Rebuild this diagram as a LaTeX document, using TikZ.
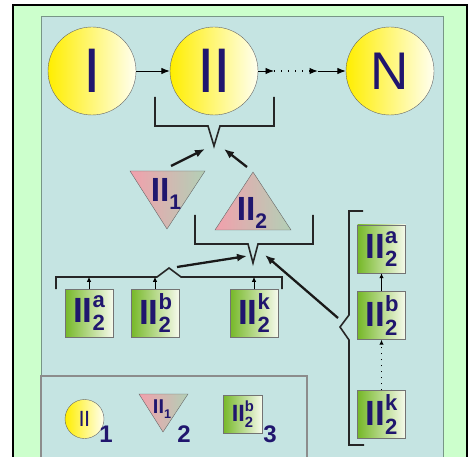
\documentclass[tikz,border=0pt]{standalone}
\usepackage{fontspec}
\setmainfont{Liberation Sans}
\usepackage{graphicx}
\usetikzlibrary{arrows.meta}

\definecolor{frameg}{RGB}{204,255,204}
\definecolor{panelb}{RGB}{197,228,226}
\definecolor{panele}{RGB}{120,150,135}
\definecolor{navy}{RGB}{32,22,110}
\definecolor{ylw}{RGB}{255,238,0}
\definecolor{ylwl}{RGB}{255,255,240}
\definecolor{pnk}{RGB}{242,160,172}
\definecolor{sage}{RGB}{178,208,182}
\definecolor{grn}{RGB}{118,184,40}
\definecolor{grnl}{RGB}{246,250,236}

\newcommand{\IIsub}[1]{II\raisebox{-.24em}{\scalebox{.63}{#1}}}
\newcommand{\IIsubsup}[2]{II\rlap{\raisebox{.43em}{\scalebox{.63}{#1}}}\raisebox{-.24em}{\scalebox{.63}{#2}}}

\begin{document}
\begin{tikzpicture}[x=1pt, y=-1pt,
        stagecirc/.style={circle, draw=black!60, left color=ylw, right color=ylwl, minimum size=88pt, inner sep=0pt, text=navy, font=\fontsize{63}{63}\selectfont},
        partbox/.style={rectangle, draw=black!55, left color=grn, right color=grnl, minimum size=48pt, inner sep=0pt, text=navy, font=\bfseries\fontsize{35}{35}\selectfont},
        wedgefill/.style={draw=black!60, left color=pnk, right color=sage},
        tagtext/.style={inner sep=0pt, text=navy, font=\bfseries\fontsize{33.5}{33.5}\selectfont},
        keytext/.style={inner sep=0pt, text=navy, font=\bfseries\fontsize{24}{24}\selectfont},
        brk/.style={line width=1.6pt, black!85, line join=miter},
        feedarrow/.style={-{Latex[length=10pt,width=8pt]}, line width=2.3pt, black!90},
        linkarrow/.style={-{Latex[length=8.5pt,width=6.5pt]}, line width=0.9pt},
        riser/.style={-{Latex[length=5pt,width=4.5pt]}, line width=0.9pt}
    ]
        % background and panels
        \fill[white] (0,0) rectangle (474,457);
        \useasboundingbox (0,0) rectangle (474,457);
        \clip (0,0) rectangle (474,457);
        \draw[line width=2.6pt, fill=frameg] (13,5) rectangle (467,480);
        \draw[panele, fill=panelb, line width=0.8pt] (41,16) rectangle (443,480);
        \draw[black!45, line width=1.2pt] (41,376) rectangle (307,480);

        % stages
        \node[stagecirc] (I) at (92,71) {I};
        \node[stagecirc] (II) at (214,71) {I\kern-2pt I};
        \node[stagecirc, font=\fontsize{53}{53}\selectfont] (N) at (390,71) {N};
        \coordinate (d1) at (274,71);
        \coordinate (d2) at (318,71);
        \draw[linkarrow] (I) -- (II);
        \draw[linkarrow] (II) -- (d1);
        \draw[linkarrow, line width=1.3pt, dash pattern=on 1.3pt off 5.7pt] (d1) -- (d2);
        \draw[linkarrow] (d2) -- (N);

        % first bracket
        \coordinate (n1) at (214,146);
        \draw[brk] (155,97) -- (155,126) -- (208,126) -- (n1) -- (220,126) -- (274,126) -- (274,97);
        \coordinate (in1L) at (205,149);
        \coordinate (in1R) at (224,149);

        % triangles
        \coordinate (t1l) at (130,171);
        \coordinate (t1r) at (205,171);
        \coordinate (t1b) at (167,229);
        \draw[wedgefill] (t1l) -- (t1r) -- (t1b) -- cycle;
        \node[tagtext] (T1) at (166,194) {\IIsub{1}};
        \coordinate (t2l) at (215,230);
        \coordinate (t2r) at (291,230);
        \coordinate (t2t) at (253,172);
        \draw[wedgefill] (t2l) -- (t2r) -- (t2t) -- cycle;
        \node[tagtext] (T2) at (252,213) {\IIsub{2}};
        \coordinate (t1o) at (171,166);
        \coordinate (t2o) at (247,167);
        \draw[feedarrow] (t1o) -- (in1L);
        \draw[feedarrow] (t2o) -- (in1R);

        % second bracket
        \coordinate (n2) at (253,263);
        \draw[brk] (195,215) -- (195,244) -- (248,244) -- (n2) -- (258,244) -- (313,244) -- (313,215);
        \coordinate (in2L) at (247,256);
        \coordinate (in2R) at (265,255);

        % parallel parts
        \node[partbox] (A) at (89,313) {\IIsubsup{a}{2}};
        \node[partbox] (B) at (155,313) {\IIsubsup{b}{2}};
        \node[partbox] (K) at (254,313) {\IIsubsup{k}{2}};
        \coordinate (bump) at (169,268);
        \draw[brk] (56,289) -- (56,277) -- (157,277) -- (bump) -- (181,277) -- (282,277) -- (282,289);
        \draw[riser] (A.north) -- ++(0,-12);
        \draw[riser] (B.north) -- ++(0,-12);
        \draw[riser] (K.north) -- ++(0,-12);
        \coordinate (ba) at (177,267);
        \draw[feedarrow] (ba) -- (in2L);

        % serial parts
        \node[partbox] (Ra) at (381.5,249) {\IIsubsup{a}{2}};
        \node[partbox] (Rb) at (381.5,315.5) {\IIsubsup{b}{2}};
        \node[partbox] (Rk) at (381.5,414.5) {\IIsubsup{k}{2}};
        \draw[riser, line width=1.3pt] (Rb) -- (Ra);
        \draw[riser, line width=1.5pt, dash pattern=on 1.5pt off 4.5pt] (Rk) -- (Rb);
        \coordinate (rtip) at (340,327);
        \draw[brk] (363,211) -- (349,211) -- (349,315) -- (rtip) -- (349,340) -- (349,445) -- (364,445);
        \coordinate (rb) at (338,318);
        \draw[feedarrow] (rb) -- (in2R);

        % legend
        \node[stagecirc, minimum size=39pt, font=\fontsize{22}{22}\selectfont] (Lc) at (84.5,419) {I\kern-0.7pt I};
        \node[keytext] (L1) at (106,434) {1};
        \coordinate (lt1) at (139,394);
        \coordinate (lt2) at (188,394);
        \coordinate (lt3) at (163,432);
        \draw[wedgefill] (lt1) -- (lt2) -- (lt3) -- cycle;
        \node[tagtext, font=\bfseries\fontsize{20}{20}\selectfont] (Lt) at (162,409) {\IIsub{1}};
        \node[keytext] (L2) at (184,434) {2};
        \node[partbox, minimum width=39pt, minimum height=38pt, font=\bfseries\fontsize{23.5}{23.5}\selectfont] (Lb) at (242.5,414) {\IIsubsup{b}{2}};
        \node[keytext] (L3) at (270,434) {3};
    \end{tikzpicture}
\end{document}
